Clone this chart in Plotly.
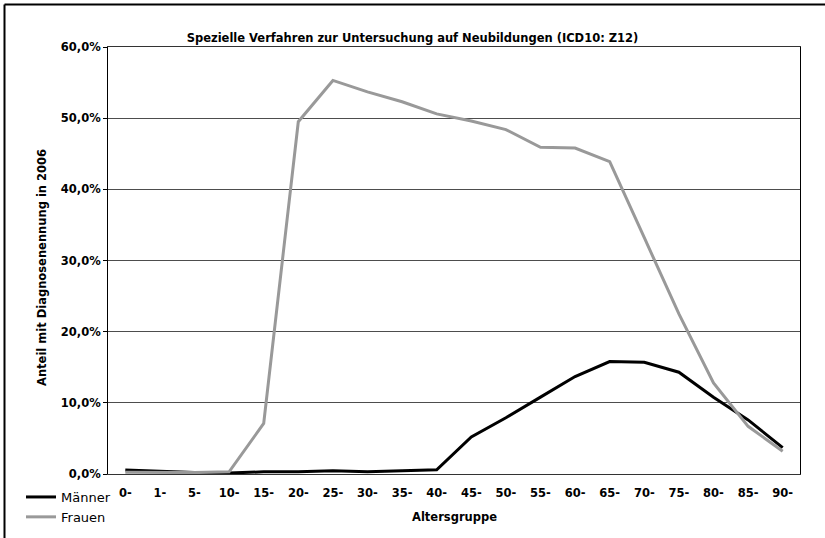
import plotly.graph_objects as go

age_groups = ["0-", "1-", "5-", "10-", "15-", "20-", "25-", "30-", "35-", "40-",
              "45-", "50-", "55-", "60-", "65-", "70-", "75-", "80-", "85-", "90-"]
maenner = [0.0056, 0.0040, 0.0020, 0.0015, 0.0030, 0.0030, 0.0045, 0.0030, 0.0040, 0.0060,
           0.052, 0.079, 0.108, 0.137, 0.158, 0.157, 0.143, 0.108, 0.076, 0.037]
frauen = [0.0025, 0.0020, 0.0020, 0.0030, 0.071, 0.495, 0.553, 0.537, 0.523, 0.506,
          0.496, 0.484, 0.459, 0.458, 0.439, 0.332, 0.225, 0.128, 0.067, 0.032]

title_text = "Spezielle Verfahren zur Untersuchung auf Neubildungen (ICD10: Z12)"
y_title = "Anteil mit Diagnosenennung in 2006"
x_title = "Altersgruppe"

FONT = "DejaVu Sans"

fig = go.Figure()
fig.add_trace(go.Scatter(x=age_groups, y=maenner, name="Männer", mode="lines",
                         line=dict(color="#000000", width=3)))
fig.add_trace(go.Scatter(x=age_groups, y=frauen, name="Frauen", mode="lines",
                         line=dict(color="#999999", width=3)))

L, R, T, B = 108, 25, 47, 64
W, H = 825, 538
pw, ph = W - L - R, H - T - B

def px_x(p):
    return (p - L) / pw

def px_y(p):
    return (H - B - p) / ph

fig.update_layout(
    width=W, height=H,
    margin=dict(l=L, r=R, t=T, b=B, autoexpand=False),
    paper_bgcolor="white", plot_bgcolor="white",
    separators=",.",
    font=dict(family=FONT, color="#000000"),
    title=dict(text="<b>" + title_text + "</b>", x=0.5, xanchor="center",
               y=1 - 38 / H, yanchor="middle", yref="container",
               font=dict(family=FONT, size=11.5, color="#000000")),
    xaxis=dict(type="category", range=[-0.5, 19.5], showgrid=False, automargin=False,
               showline=True, linecolor="#333333", linewidth=1, mirror=True,
               ticks="outside", ticklen=8, tickcolor="rgba(0,0,0,0)",
               tickfont=dict(family=FONT, size=11.5, weight="bold", color="#000000")),
    yaxis=dict(range=[0, 0.6], dtick=0.1, tickformat=".1%", automargin=False,
               showgrid=True, gridcolor="#4d4d4d", gridwidth=1,
               showline=True, linecolor="#000000", linewidth=1, mirror=True,
               ticks="outside", ticklen=4, tickcolor="#000000",
               zeroline=False,
               tickfont=dict(family=FONT, size=11.5, weight="bold", color="#000000")),
    legend=dict(xref="container", yref="container", x=21 / W, y=1 - 482 / H,
                xanchor="left", yanchor="top", bgcolor="rgba(0,0,0,0)",
                font=dict(family=FONT, size=13, color="#000000"),
                tracegroupgap=0),
    showlegend=True,
    annotations=[
        dict(text="<b>" + y_title + "</b>", xref="paper", yref="paper",
             x=px_x(42), y=px_y(268), xanchor="center", yanchor="middle",
             textangle=-90, showarrow=False,
             font=dict(family=FONT, size=11.5, color="#000000")),
        dict(text="<b>" + x_title + "</b>", xref="paper", yref="paper",
             x=0.5, y=px_y(517), xanchor="center", yanchor="middle",
             showarrow=False,
             font=dict(family=FONT, size=11.5, color="#000000")),
    ],
    shapes=[
        dict(type="line", xref="paper", yref="paper",
             x0=px_x(4.5), x1=px_x(W + 10), y0=px_y(4.5), y1=px_y(4.5),
             line=dict(color="#000000", width=2)),
        dict(type="line", xref="paper", yref="paper",
             x0=px_x(4.5), x1=px_x(4.5), y0=px_y(4.5), y1=px_y(H + 10),
             line=dict(color="#000000", width=2)),
    ],
)

fig.write_html("out.html", config={"displayModeBar": False},
               post_script="document.body.style.margin='0';")
